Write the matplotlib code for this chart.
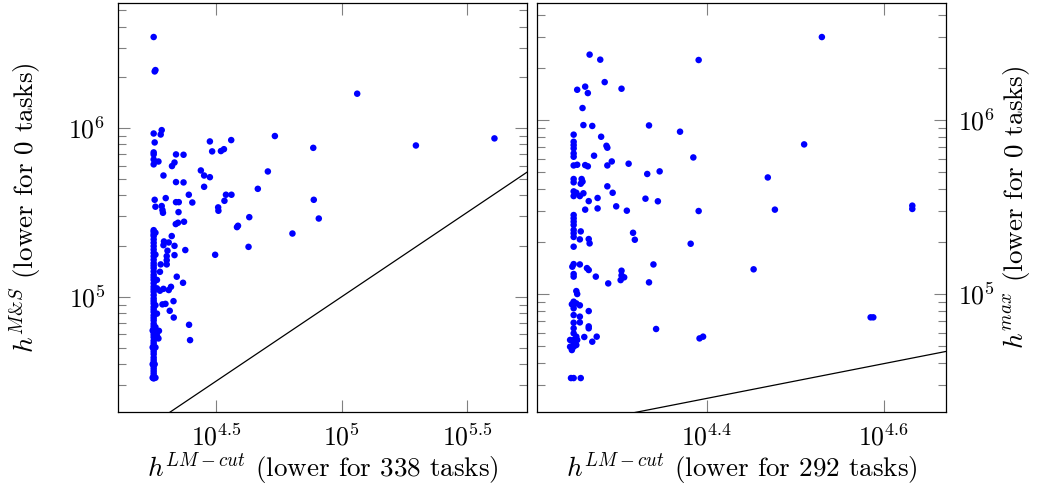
"""Scatter of heuristic values: LM-cut vs M&S and LM-cut vs max"""

import matplotlib
matplotlib.use("Agg")
import matplotlib.pyplot as plt
import numpy as np
from matplotlib.ticker import FixedLocator, LogLocator, NullLocator, NullFormatter

plt.rcParams["font.family"] = "serif"
plt.rcParams["font.serif"] = ["cmr10"]
plt.rcParams["mathtext.fontset"] = "cm"
plt.rcParams["axes.unicode_minus"] = False
plt.rcParams["axes.formatter.use_mathtext"] = True

# log10 of heuristic values
# left panel: h^LM-cut (x) vs h^M&S (y)
ms_lmcut_log = [
    4.251, 4.258, 4.255, 4.251, 4.279, 4.283, 4.255, 4.251, 4.251, 4.251,
    4.270, 4.251, 4.255, 4.258,
    4.251, 4.251, 4.251, 4.251, 4.251, 4.251, 4.251, 4.251, 4.251, 4.251,
    4.251, 4.251, 4.251, 4.251, 4.251, 4.251, 4.251, 4.251, 4.251, 4.251,
    4.251, 4.251, 4.251, 4.251, 4.251, 4.251, 4.251, 4.251, 4.251, 4.251,
    4.251, 4.251, 4.251, 4.251, 4.251, 4.251, 4.251, 4.251, 4.251, 4.251,
    4.251, 4.251, 4.251, 4.251, 4.251, 4.251, 4.251, 4.251, 4.251, 4.251,
    4.251, 4.251, 4.251, 4.251,
    4.258, 4.258, 4.264, 4.258, 4.264, 4.258, 4.264, 4.258, 4.255, 4.258,
    4.247, 4.247, 4.247, 4.247, 4.264,
    4.290, 4.340, 4.370, 4.324, 4.334, 4.340, 4.370, 4.391, 4.405, 4.299,
    4.340, 4.351, 4.283, 4.286, 4.288, 4.350, 4.339, 4.348, 4.372, 4.323,
    4.290, 4.292, 4.311, 4.334, 4.377, 4.306, 4.303, 4.303, 4.334, 4.279,
    4.303, 4.276, 4.343, 4.368, 4.320, 4.311, 4.290, 4.276, 4.330, 4.286,
    4.298, 4.315, 4.331, 4.272, 4.264, 4.270, 4.392, 4.396,
    4.475, 4.484, 4.519, 4.531, 4.560, 4.734, 4.887, 5.062, 5.296, 5.609,
    4.439, 4.452, 4.475, 4.452, 4.706, 4.666, 4.539, 4.561, 4.533, 4.508,
    4.509, 4.632, 4.587, 4.583, 4.804, 4.629, 4.496, 4.889, 4.909,
]
ms_value_log = [
    6.540, 6.344, 6.336, 5.968, 5.962, 5.988, 5.915, 5.856, 5.844, 5.814,
    5.802, 5.785, 5.575, 5.534,
    5.395, 5.385, 5.370, 5.360, 5.340, 5.320, 5.300, 5.280, 5.260, 5.240,
    5.220, 5.200, 5.185, 5.170, 5.150, 5.130, 5.115, 5.100, 5.080, 5.060,
    5.045, 5.030, 5.010, 4.990, 4.975, 4.960, 4.940, 4.925, 4.910, 4.890,
    4.875, 4.860, 4.840, 4.825, 4.810, 4.790, 4.775, 4.760, 4.740, 4.725,
    4.710, 4.690, 4.675, 4.660, 4.640, 4.625, 4.610, 4.590, 4.575, 4.560,
    4.545, 4.530, 4.520, 4.516,
    5.380, 5.250, 5.100, 4.950, 4.900, 4.820, 4.770, 4.700, 4.600, 4.520,
    4.520, 4.600, 4.700, 4.800, 5.050,
    5.719, 5.844, 5.842, 5.775, 5.796, 5.680, 5.678, 5.605, 5.559, 5.585,
    5.561, 5.561, 5.538, 5.514, 5.498, 5.502, 5.431, 5.439, 5.445, 5.360,
    5.306, 5.328, 5.322, 5.302, 5.277, 5.273, 5.241, 5.217, 5.247, 5.192,
    5.192, 5.148, 5.119, 5.083, 5.059, 5.040, 5.047, 5.036, 4.974, 4.955,
    4.958, 4.917, 4.877, 4.798, 4.763, 4.753, 4.834, 4.743,
    5.921, 5.862, 5.864, 5.875, 5.929, 5.953, 5.883, 6.204, 5.897, 5.939,
    5.749, 5.719, 5.709, 5.652, 5.743, 5.640, 5.605, 5.605, 5.569, 5.530,
    5.510, 5.472, 5.421, 5.413, 5.375, 5.296, 5.249, 5.575, 5.464,
]

# right panel: h^LM-cut (x) vs h^max (y)
max_lmcut_log = [
    4.530, 4.268, 4.280, 4.391, 4.285, 4.254, 4.263, 4.266, 4.304, 4.260,
    4.261, 4.271, 4.335, 4.370, 4.250, 4.281, 4.250, 4.250, 4.250, 4.287,
    4.288, 4.510, 4.250, 4.250, 4.273, 4.385, 4.250, 4.254, 4.263, 4.266,
    4.288, 4.293, 4.312, 4.333, 4.347, 4.469, 4.250, 4.250, 4.259, 4.258,
    4.260, 4.288, 4.294, 4.250, 4.250, 4.253, 4.257, 4.261, 4.267, 4.277,
    4.331, 4.345, 4.263, 4.277, 4.298, 4.310, 4.391, 4.477, 4.632, 4.632,
    4.250, 4.250, 4.250, 4.250, 4.250, 4.250, 4.250, 4.258, 4.257, 4.267,
    4.268, 4.317, 4.319, 4.250, 4.382, 4.2485, 4.250, 4.257, 4.250, 4.250,
    4.265, 4.267, 4.275, 4.304, 4.304, 4.307, 4.303, 4.289, 4.335, 4.340,
    4.453, 4.253, 4.254, 4.250, 4.248, 4.253, 4.257, 4.267, 4.250, 4.250,
    4.257, 4.257, 4.250, 4.250, 4.267, 4.267, 4.343, 4.585, 4.588, 4.392,
    4.396, 4.262, 4.276, 4.271, 4.250, 4.250, 4.250, 4.250, 4.248, 4.253,
    4.247, 4.250, 4.258, 4.246, 4.246, 4.253, 4.254,
]
max_value_log = [
    6.477, 6.376, 6.347, 6.345, 6.218, 6.174, 6.192, 6.155, 6.180, 6.069,
    5.971, 5.966, 5.969, 5.933, 5.916, 5.904, 5.875, 5.856, 5.837, 5.852,
    5.841, 5.860, 5.808, 5.789, 5.795, 5.785, 5.739, 5.743, 5.741, 5.734,
    5.739, 5.762, 5.749, 5.690, 5.705, 5.670, 5.661, 5.642, 5.661, 5.634,
    5.646, 5.619, 5.582, 5.590, 5.563, 5.582, 5.563, 5.579, 5.534, 5.552,
    5.548, 5.533, 5.485, 5.492, 5.504, 5.479, 5.477, 5.485, 5.508, 5.489,
    5.454, 5.435, 5.416, 5.397, 5.368, 5.349, 5.328, 5.360, 5.314, 5.316,
    5.291, 5.352, 5.312, 5.272, 5.289, 5.157, 5.172, 5.170, 5.115, 5.100,
    5.149, 5.138, 5.100, 5.134, 5.107, 5.096, 5.080, 5.061, 5.067, 5.170,
    5.142, 5.017, 5.000, 4.956, 4.941, 4.946, 4.935, 4.902, 4.918, 4.879,
    4.870, 4.837, 4.835, 4.803, 4.814, 4.803, 4.799, 4.866, 4.866, 4.745,
    4.755, 4.753, 4.755, 4.726, 4.774, 4.736, 4.716, 4.697, 4.678, 4.707,
    4.517, 4.517, 4.517, 4.736, 4.697, 4.755, 4.736,
]

left_xticks = [4.5, 5.0, 5.5]
left_xlabels = [r"$10^{4.5}$", r"$10^{5}$", r"$10^{5.5}$"]
right_xticks = [4.4, 4.6]
right_xlabels = [r"$10^{4.4}$", r"$10^{4.6}$"]

TICK_FS = 18.5
LABEL_FS = 19.5


def style_axis(ax, xlim, ylim, xticks, xlabels):
    """log-log axis with pgfplots-like inward ticks on all sides"""
    ax.set_xscale("log")
    ax.set_yscale("log")
    ax.set_xlim(10 ** xlim[0], 10 ** xlim[1])
    ax.set_ylim(10 ** ylim[0], 10 ** ylim[1])
    ax.xaxis.set_major_locator(FixedLocator([10 ** t for t in xticks]))
    ax.set_xticklabels(xlabels)
    ax.xaxis.set_minor_locator(NullLocator())
    ax.yaxis.set_major_locator(FixedLocator([1e5, 1e6]))
    ax.set_yticklabels([r"$10^{5}$", r"$10^{6}$"])
    ax.yaxis.set_minor_locator(LogLocator(base=10, subs=np.arange(2, 10)))
    ax.yaxis.set_minor_formatter(NullFormatter())
    ax.tick_params(which="both", direction="in", top=True, right=True,
                   color="0.5", width=0.8, labelsize=TICK_FS, pad=9)
    ax.tick_params(which="major", length=8.5)
    ax.tick_params(which="minor", length=5.5)
    for sp in ax.spines.values():
        sp.set_linewidth(0.9)
    # y = x reference line
    lo = min(xlim[0], ylim[0])
    hi = max(xlim[1], ylim[1])
    ax.plot([10 ** lo, 10 ** hi], [10 ** lo, 10 ** hi], color="black",
            lw=0.9, zorder=1)


def main() -> None:
    fig = plt.figure(figsize=(10.4, 4.95), dpi=100)
    ax1 = fig.add_axes([0.1135, 0.1677, 0.3933, 0.826])
    ax2 = fig.add_axes([0.5163, 0.1677, 0.3933, 0.826])

    ax1.scatter(10 ** np.array(ms_lmcut_log), 10 ** np.array(ms_value_log),
                s=22, color="#0000ff", edgecolors="none", zorder=3)
    style_axis(ax1, (4.109, 5.739), (4.317, 6.741), left_xticks, left_xlabels)
    ax1.set_xlabel(r"$h^{LM-cut}$ (lower for 338 tasks)", fontsize=LABEL_FS,
                   labelpad=0)
    ax1.set_ylabel(r"$h^{M&S}$ (lower for 0 tasks)", fontsize=LABEL_FS,
                   labelpad=18)

    ax2.scatter(10 ** np.array(max_lmcut_log), 10 ** np.array(max_value_log),
                s=22, color="#0000ff", edgecolors="none", zorder=3)
    style_axis(ax2, (4.2086, 4.67), (4.322, 6.672), right_xticks,
               right_xlabels)
    ax2.yaxis.tick_right()
    ax2.tick_params(which="both", left=True, right=True)
    ax2.yaxis.set_label_position("right")
    ax2.set_xlabel(r"$h^{LM-cut}$ (lower for 292 tasks)", fontsize=LABEL_FS,
                   labelpad=0)
    ax2.set_ylabel(r"$h^{max}$ (lower for 0 tasks)", fontsize=LABEL_FS,
                   labelpad=4)

    fig.savefig("out.png", dpi=100)


if __name__ == "__main__":
    main()
